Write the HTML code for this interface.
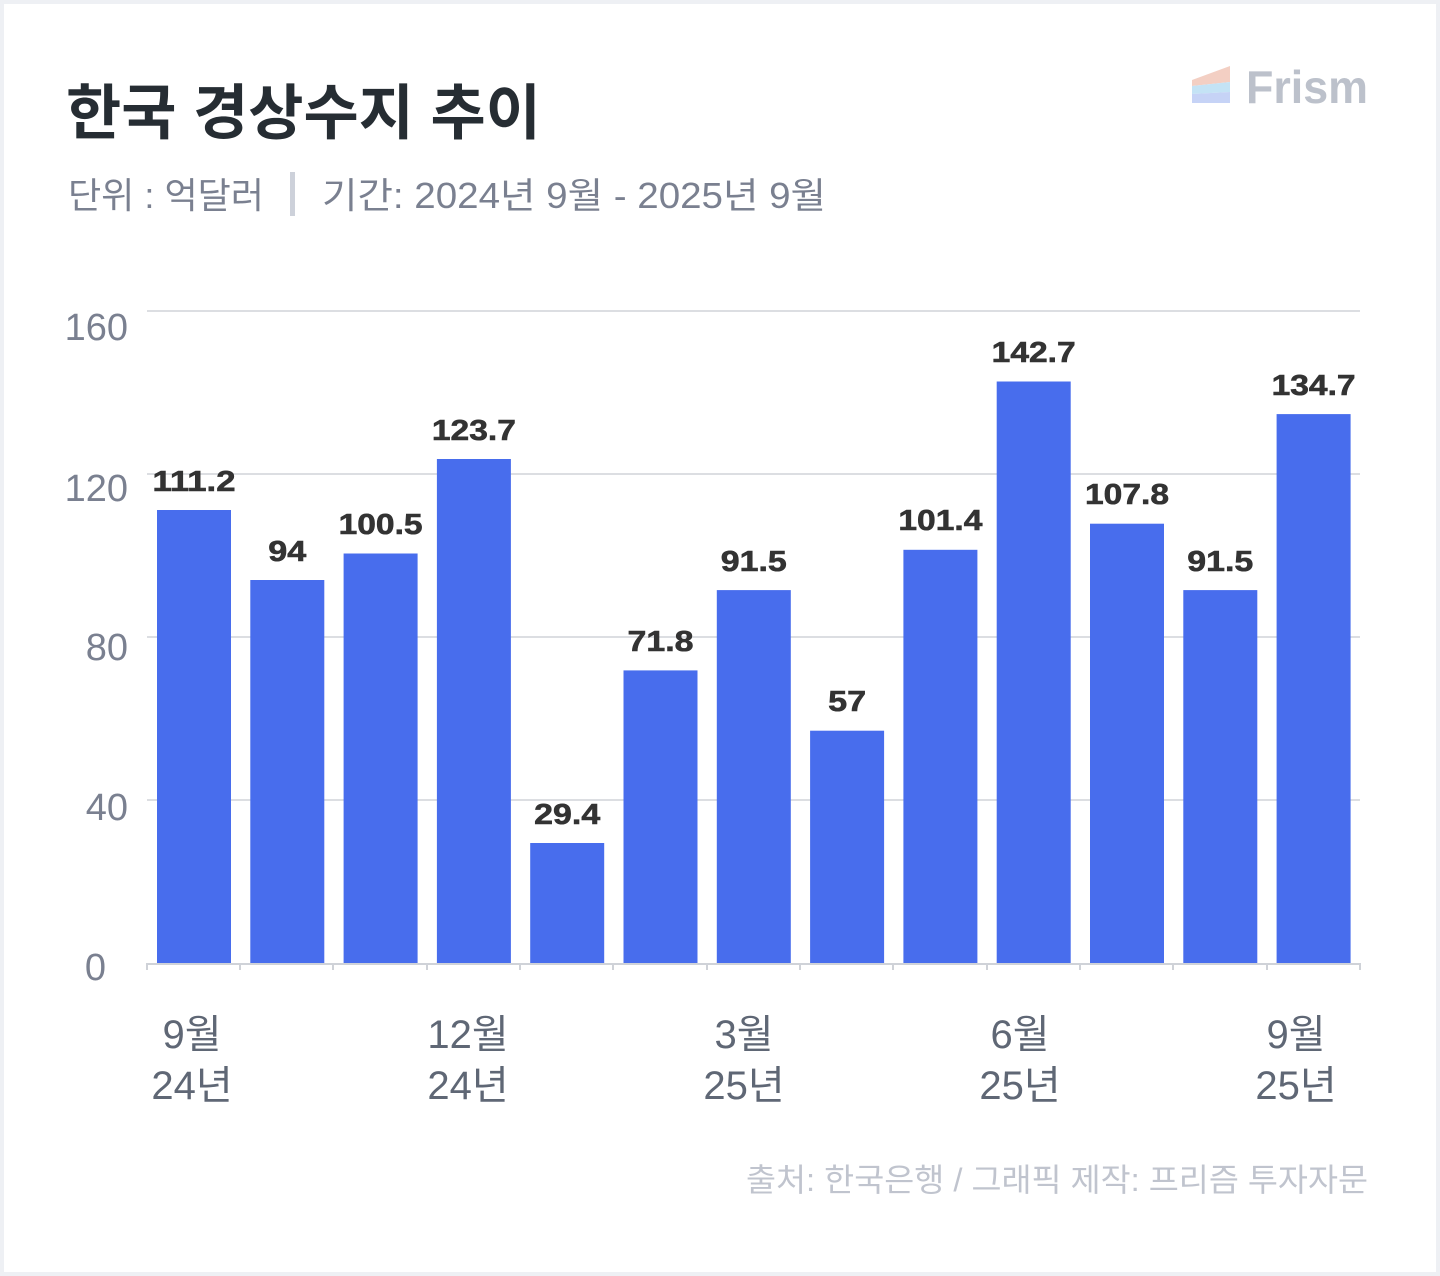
<!DOCTYPE html>
<html><head><meta charset="utf-8"><style>
html,body{margin:0;padding:0;background:#fff}
svg{display:block}
text{font-family:"Liberation Sans","Noto Sans CJK KR",sans-serif}
</style></head><body>
<svg width="1440" height="1276" viewBox="0 0 1440 1276" xmlns="http://www.w3.org/2000/svg">
<rect x="0" y="0" width="1440" height="1276" fill="#eef0f4"/>
<rect x="4" y="4" width="1432" height="1268" fill="#ffffff"/>
<text x="66" y="134" font-size="60" font-weight="bold" fill="#262d33" font-family="Noto Sans CJK KR, sans-serif">한국 경상수지 추이</text>
<text x="68" y="208" font-size="36" fill="#7a8090" font-family="Noto Sans CJK KR, sans-serif" textLength="196" lengthAdjust="spacingAndGlyphs">단위 : 억달러</text>
<rect x="290" y="172" width="5" height="44" fill="#cdd1da"/>
<text x="322" y="208" font-size="36" fill="#7a8090" font-family="Noto Sans CJK KR, sans-serif" textLength="504" lengthAdjust="spacingAndGlyphs">기간: 2024년 9월 - 2025년 9월</text>
<!-- logo -->
<polygon points="1192,80 1230,66 1230,82 1192,86" fill="#f3cfc3"/>
<polygon points="1192,86 1230,82 1230,92 1192,94" fill="#c4e3f5"/>
<polygon points="1192,94 1230,92 1230,103 1192,103" fill="#c6d3f6"/>
<text x="1246" y="103" font-size="46" font-weight="bold" fill="#bcc1cb" textLength="122" lengthAdjust="spacingAndGlyphs">Frism</text>
<!-- grid -->
<g stroke="#dcdee2" stroke-width="2">
<line x1="147" y1="311" x2="1360" y2="311"/>
<line x1="147" y1="474" x2="1360" y2="474"/>
<line x1="147" y1="637" x2="1360" y2="637"/>
<line x1="147" y1="800" x2="1360" y2="800"/>
</g>
<g font-size="38" fill="#7a8090" text-anchor="end">
<text x="128" y="340">160</text>
<text x="128" y="501">120</text>
<text x="128" y="660">80</text>
<text x="128" y="820">40</text>
<text x="106" y="980">0</text>
</g>
<g fill="#486ded">
<rect x="157" y="510" width="74" height="453"/>
<rect x="250.3" y="580" width="74" height="383"/>
<rect x="343.6" y="553.5" width="74" height="409.5"/>
<rect x="436.9" y="459" width="74" height="504"/>
<rect x="530.2" y="843" width="74" height="120"/>
<rect x="623.5" y="670.4" width="74" height="292.6"/>
<rect x="716.8" y="590.1" width="74" height="372.9"/>
<rect x="810.1" y="730.7" width="74" height="232.3"/>
<rect x="903.4" y="549.8" width="74" height="413.2"/>
<rect x="996.7" y="381.5" width="74" height="581.5"/>
<rect x="1090" y="523.7" width="74" height="439.3"/>
<rect x="1183.3" y="590.1" width="74" height="372.9"/>
<rect x="1276.6" y="414.1" width="74" height="548.9"/>
</g>
<g stroke="#cfd2d8" stroke-width="2">
<line x1="147" y1="964" x2="1360" y2="964"/>
<line x1="147" y1="963" x2="147" y2="970"/>
<line x1="240" y1="963" x2="240" y2="970"/>
<line x1="333" y1="963" x2="333" y2="970"/>
<line x1="427" y1="963" x2="427" y2="970"/>
<line x1="520" y1="963" x2="520" y2="970"/>
<line x1="613" y1="963" x2="613" y2="970"/>
<line x1="707" y1="963" x2="707" y2="970"/>
<line x1="800" y1="963" x2="800" y2="970"/>
<line x1="893" y1="963" x2="893" y2="970"/>
<line x1="987" y1="963" x2="987" y2="970"/>
<line x1="1080" y1="963" x2="1080" y2="970"/>
<line x1="1173" y1="963" x2="1173" y2="970"/>
<line x1="1267" y1="963" x2="1267" y2="970"/>
<line x1="1360" y1="963" x2="1360" y2="970"/>
</g>
<g font-size="29" font-weight="900" fill="#333" text-anchor="middle" stroke="#333" stroke-width="0.6" lengthAdjust="spacingAndGlyphs">
<text x="194" y="491" textLength="83" lengthAdjust="spacingAndGlyphs">111.2</text>
<text x="287.3" y="561" textLength="38" lengthAdjust="spacingAndGlyphs">94</text>
<text x="380.6" y="534" textLength="84" lengthAdjust="spacingAndGlyphs">100.5</text>
<text x="473.9" y="440" textLength="84" lengthAdjust="spacingAndGlyphs">123.7</text>
<text x="567.2" y="824" textLength="66" lengthAdjust="spacingAndGlyphs">29.4</text>
<text x="660.5" y="651" textLength="66" lengthAdjust="spacingAndGlyphs">71.8</text>
<text x="753.8" y="571" textLength="66" lengthAdjust="spacingAndGlyphs">91.5</text>
<text x="847.1" y="711" textLength="38" lengthAdjust="spacingAndGlyphs">57</text>
<text x="940.4" y="530" textLength="84" lengthAdjust="spacingAndGlyphs">101.4</text>
<text x="1033.7" y="362" textLength="84" lengthAdjust="spacingAndGlyphs">142.7</text>
<text x="1127" y="504" textLength="84" lengthAdjust="spacingAndGlyphs">107.8</text>
<text x="1220.3" y="571" textLength="66" lengthAdjust="spacingAndGlyphs">91.5</text>
<text x="1313.6" y="395" textLength="84" lengthAdjust="spacingAndGlyphs">134.7</text>
</g>
<g font-size="40" fill="#5f6775" text-anchor="middle" font-family="Noto Sans CJK KR, sans-serif">
<text x="192" y="1048">9월</text><text x="192" y="1099">24년</text>
<text x="468" y="1048">12월</text><text x="468" y="1099">24년</text>
<text x="744" y="1048">3월</text><text x="744" y="1099">25년</text>
<text x="1020" y="1048">6월</text><text x="1020" y="1099">25년</text>
<text x="1296" y="1048">9월</text><text x="1296" y="1099">25년</text>
</g>
<text x="1368" y="1191" font-size="32" fill="#c0c4ce" text-anchor="end" font-family="Noto Sans CJK KR, sans-serif" textLength="622" lengthAdjust="spacingAndGlyphs">출처: 한국은행 / 그래픽 제작: 프리즘 투자자문</text>
</svg>
</body></html>
